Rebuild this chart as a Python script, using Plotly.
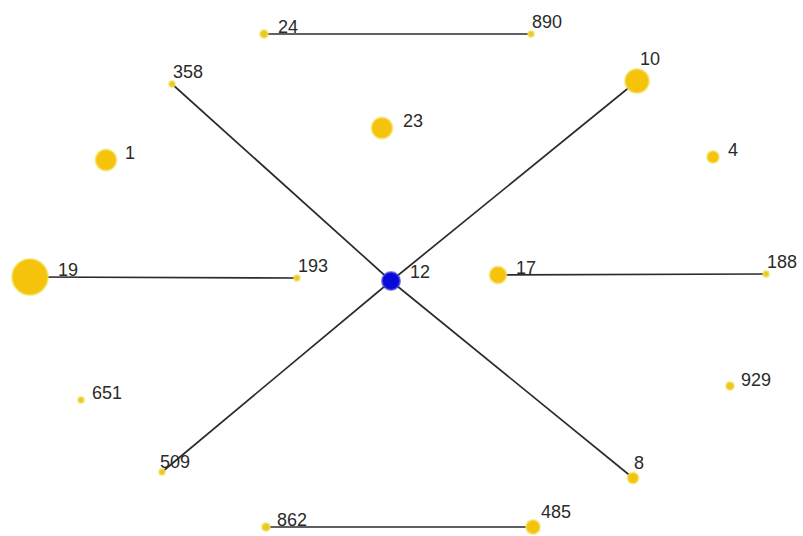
import plotly.graph_objects as go

# Node data
node_ids = ["24", "890", "358", "23", "10", "1", "4", "19", "193", "12",
            "17", "188", "651", "929", "509", "8", "862", "485"]
node_x = [264, 531, 172, 382, 637, 106, 713, 30, 297, 391,
          498, 766, 81, 730, 162, 633, 266, 533]
node_y = [34, 34, 84, 128, 81, 160, 157, 277, 278, 281,
          275, 274, 400, 386, 472, 478, 527, 527]
node_weight = [8, 6, 6, 21, 24, 21, 12, 36, 6, 18,
               17, 6, 6, 8, 6, 11, 8, 14]
hub = "12"

# Edges
edges = [("24", "890"), ("358", "12"), ("12", "8"), ("509", "12"),
         ("12", "10"), ("19", "193"), ("17", "188"), ("862", "485")]

# Label placement (pixel offsets of label's left/middle from node centre)
label_offset = {
    "24": (12, -7), "890": (-1, -12), "358": (-1, -12), "23": (19, -7),
    "10": (1, -22), "1": (17, -7), "4": (13, -7), "19": (26, -7),
    "193": (-1, -12), "12": (17, -9), "17": (16, -7), "188": (-1, -12),
    "651": (9, -7), "929": (9, -6), "509": (-4, -10), "8": (-1, -15),
    "862": (9, -7), "485": (6, -15),
}

pos = {n: (x, y) for n, x, y in zip(node_ids, node_x, node_y)}

fig = go.Figure()

ex, ey = [], []
for a, b in edges:
    ex += [pos[a][0], pos[b][0], None]
    ey += [pos[a][1], pos[b][1], None]
fig.add_trace(go.Scatter(x=ex, y=ey, mode="lines",
                         line=dict(color="#2b2b2b", width=1.7),
                         hoverinfo="skip", showlegend=False))

colors = ["#0a0ad8" if n == hub else ("#f6c30c" if w >= 10 else "#ecc920")
          for n, w in zip(node_ids, node_weight)]
lines = ["rgba(70,70,220,0.7)" if n == hub else "rgba(240,226,100,0.6)" for n in node_ids]
fig.add_trace(go.Scatter(
    x=node_x, y=node_y, mode="markers",
    marker=dict(size=node_weight, color=colors, opacity=1,
                line=dict(color=lines, width=2)),
    showlegend=False, hoverinfo="text", text=node_ids))

for n, x, y in zip(node_ids, node_x, node_y):
    dx, dy = label_offset[n]
    fig.add_annotation(x=x, y=y, text=n, showarrow=False,
                       xanchor="left", yanchor="middle",
                       xshift=dx, yshift=-dy,
                       font=dict(family="Liberation Sans, Arial", size=18, color="#2a2a2a"))

fig.update_layout(
    width=803, height=536,
    margin=dict(l=0, r=0, t=0, b=0),
    paper_bgcolor="white", plot_bgcolor="white",
    xaxis=dict(range=[0, 803], visible=False, fixedrange=True),
    yaxis=dict(range=[536, 0], visible=False, fixedrange=True),
)

fig.write_html("out.html", config={"displayModeBar": False},
               post_script="document.body.style.margin='0';document.body.style.overflow='hidden';")
